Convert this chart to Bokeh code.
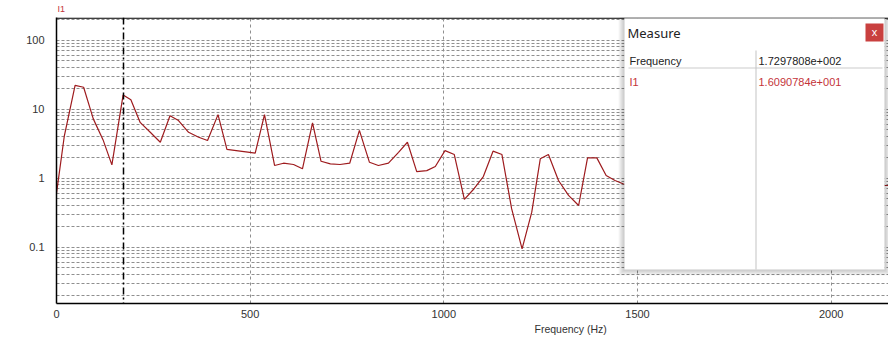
import math
from bokeh.plotting import figure
from bokeh.models import (FixedTicker, Span, Label, BoxAnnotation, Title,
                          PrintfTickFormatter)
from bokeh.embed import file_html
from bokeh.resources import INLINE

# ---------------- data ----------------
freq_hz = [0, 20, 48, 70, 95, 120, 143, 172, 192, 216, 242, 268, 293, 315, 341,
           367, 390, 417, 440, 464, 489, 513, 537, 563, 586, 612, 635, 661, 683,
           707, 732, 757, 782, 808, 831, 857, 883, 906, 930, 956, 978, 1003, 1027,
           1053, 1078, 1102, 1127, 1150, 1175, 1202, 1227, 1249, 1270, 1296, 1322,
           1348, 1371, 1395, 1419, 1442, 1464, 2137, 2148]
i1_amp = [0.6, 4.0, 22.0, 20.7, 7.2, 3.6, 1.55, 16.0, 13.6, 6.4, 4.6, 3.3, 8.0,
          6.8, 4.6, 3.9, 3.5, 8.3, 2.6, 2.5, 2.4, 2.3, 8.3, 1.52, 1.64, 1.57,
          1.36, 6.3, 1.75, 1.6, 1.57, 1.64, 4.9, 1.69, 1.52, 1.64, 2.36, 3.3,
          1.24, 1.28, 1.47, 2.5, 2.19, 0.49, 0.7, 1.05, 2.45, 2.19, 0.36, 0.094,
          0.32, 1.9, 2.19, 0.92, 0.56, 0.40, 1.96, 1.96, 1.09, 0.92, 0.82, 0.78, 0.78]
x_ticks = [0, 500, 1000, 1500, 2000]
y_ticks = [0.1, 1, 10, 100]
y_minor = [0.02, 0.03, 0.04, 0.05, 0.06, 0.07, 0.08, 0.09,
           0.2, 0.3, 0.4, 0.5, 0.6, 0.7, 0.8, 0.9,
           2, 3, 4, 5, 6, 7, 8, 9,
           20, 30, 40, 50, 60, 70, 80, 90, 200]
series_name = "I1"
x_title = "Frequency (Hz)"
panel_title = "Measure"
cursor_freq = 172.97808
cursor_freq_text = "1.7297808e+002"
cursor_val_text = "1.6090784e+001"

# ---------------- layout ----------------
W, H = 888, 353
L, T, B = 56, 17, 303
XMIN, XMAX = 0, 2148
YMIN, YMAX = 0.0152, 212
LDEC = math.log10(YMAX / YMIN)


def dx(px):
    return XMIN + (px - L) / (W - L) * (XMAX - XMIN)


def dy(py):
    return 10 ** (math.log10(YMAX) - (py - T) / (B - T) * LDEC)


RED = "#c4343a"
LINE_RED = "#9e1b1e"
GRID = "#8f8f8f"
FONT = "Liberation Sans"

p = figure(width=W, height=H, x_range=(XMIN, XMAX), y_range=(YMIN, YMAX),
           y_axis_type="log", output_backend="svg", toolbar_location=None,
           min_border_left=L, min_border_right=0, min_border_top=T,
           min_border_bottom=H - B)
p.outline_line_color = None
p.background_fill_color = "white"
p.border_fill_color = "white"

# series name above the frame
p.title.text = series_name
p.title.text_color = RED
p.title.text_font = FONT
p.title.text_font_size = "9px"
p.title.text_font_style = "normal"
p.title.align = "left"
p.title.offset = 1
p.title.standoff = 4
p.title.vertical_align = "top"

# x title below axis, shifted to the right like the reference
p.add_layout(Title(text=x_title, text_color="#333333", text_font=FONT,
                   text_font_size="10.5px", text_font_style="normal", align="left",
                   offset=478, standoff=4, vertical_align="top"), "below")

# axes
p.xaxis.ticker = FixedTicker(ticks=x_ticks)
p.yaxis.ticker = FixedTicker(ticks=y_ticks, minor_ticks=y_minor)
p.yaxis.formatter = PrintfTickFormatter(format="%g")
for ax in (p.xaxis[0], p.yaxis[0]):
    ax.axis_line_color = "black"
    ax.axis_line_width = 1.5
    ax.major_tick_line_color = None
    ax.minor_tick_line_color = None
    ax.major_tick_out = 0
    ax.minor_tick_out = 0
    ax.major_tick_in = 0
    ax.minor_tick_in = 0
    ax.major_label_text_font = FONT
    ax.major_label_text_font_size = "11px"
    ax.major_label_text_color = "#333333"
p.xaxis.major_label_standoff = 6
p.yaxis.major_label_standoff = 12

# grids
p.xgrid.grid_line_color = GRID
p.xgrid.grid_line_dash = "3 3"
p.ygrid.grid_line_color = GRID
p.ygrid.grid_line_dash = "3 2"
p.ygrid.minor_grid_line_color = GRID
p.ygrid.minor_grid_line_dash = "3 2"

# top border line
p.add_layout(BoxAnnotation(left=XMIN, right=XMAX, top=YMAX, bottom=dy(18.3),
                           fill_color="black", fill_alpha=1.0, line_color=None))

# data
p.line(freq_hz, i1_amp, line_color=LINE_RED, line_width=1.2)

# cursor
p.add_layout(Span(location=cursor_freq, dimension="height", line_color="black",
                  line_width=1.5, line_dash="7 3 2 3"))

# measure panel: shadow layers
for k in range(6, 0, -1):
    p.add_layout(BoxAnnotation(left=dx(624 - k), right=dx(884 + k),
                               top=dy(18 - k / 2), bottom=dy(269 + k),
                               fill_color="#000000", fill_alpha=0.035,
                               line_color=None))
p.add_layout(BoxAnnotation(left=dx(624), right=dx(884), top=dy(18), bottom=dy(269),
                           fill_color="white", fill_alpha=1.0, line_color="#dddddd",
                           line_width=1))
# separators
p.add_layout(BoxAnnotation(left=dx(628), right=dx(882), top=dy(67), bottom=dy(68),
                           fill_color="#cccccc", fill_alpha=1.0, line_color=None))
p.add_layout(BoxAnnotation(left=dx(755), right=dx(756), top=dy(50), bottom=dy(269),
                           fill_color="#c4c4c4", fill_alpha=1.0, line_color=None))
# close button
p.add_layout(BoxAnnotation(left=dx(865), right=dx(883), top=dy(23), bottom=dy(41),
                           fill_color="#c9403f", fill_alpha=1.0, line_color=None))
p.add_layout(Label(x=dx(874), y=dy(31.5), text="x", text_color="white",
                   text_font=FONT, text_font_size="11px", text_align="center",
                   text_baseline="middle"))
# panel texts
p.add_layout(Label(x=dx(627), y=dy(32), text=panel_title, text_color="#222222",
                   text_font="Noto Sans", text_font_size="13px",
                   text_baseline="middle"))
p.add_layout(Label(x=dx(629), y=dy(60), text="Frequency", text_color="#222222",
                   text_font=FONT, text_font_size="11px", text_baseline="middle"))
p.add_layout(Label(x=dx(758), y=dy(60), text=cursor_freq_text, text_color="#222222",
                   text_font=FONT, text_font_size="11px", text_baseline="middle"))
p.add_layout(Label(x=dx(629), y=dy(81), text=series_name, text_color=RED,
                   text_font=FONT, text_font_size="11px", text_baseline="middle"))
p.add_layout(Label(x=dx(758), y=dy(81), text=cursor_val_text, text_color=RED,
                   text_font=FONT, text_font_size="11px", text_baseline="middle"))

open("out.html", "w").write(file_html(p, INLINE))
